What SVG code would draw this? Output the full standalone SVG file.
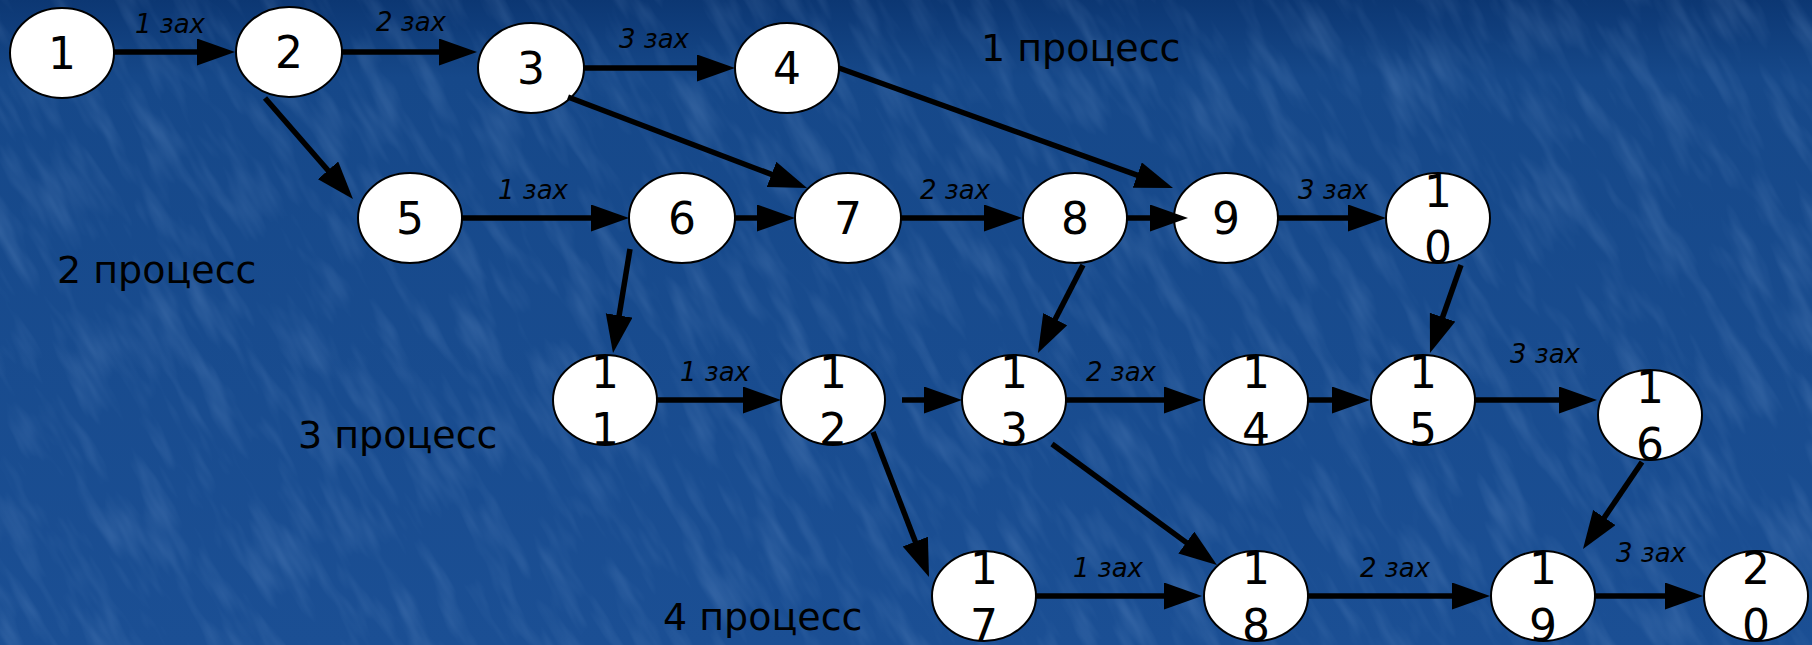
<svg xmlns="http://www.w3.org/2000/svg" width="1812" height="645" viewBox="0 0 1812 645">
<defs>
<linearGradient id="bg" x1="0" y1="0" x2="0" y2="1">
<stop offset="0" stop-color="#0c3773"/>
<stop offset="0.12" stop-color="#164889"/>
<stop offset="1" stop-color="#1b4f94"/>
</linearGradient>
<filter id="tex" x="0" y="0" width="100%" height="100%">
<feTurbulence type="fractalNoise" baseFrequency="0.05 0.012" numOctaves="3" seed="7"/>
<feColorMatrix type="matrix" values="0 0 0 0 0.40  0 0 0 0 0.60  0 0 0 0 0.92  0 0 0 1.1 -0.5"/>
</filter>
<marker id="ah" markerUnits="userSpaceOnUse" markerWidth="40" markerHeight="28" refX="28" refY="13.5" orient="auto">
<path d="M0,0 L38,13.5 L0,27 z" fill="#000"/>
</marker>
<style>
.node ellipse{fill:#fff;stroke:#000;stroke-width:2}
.node text{font-family:"DejaVu Sans","Liberation Sans",sans-serif;font-size:44px;fill:#000;text-anchor:middle}
.edges line{stroke:#000;stroke-width:5.5;marker-end:url(#ah)}
.el{font-family:"DejaVu Sans","Liberation Sans",sans-serif;font-style:italic;font-size:26px;fill:#000}
.proc{font-family:"DejaVu Sans","Liberation Sans",sans-serif;font-size:38px;fill:#000}
</style>
</defs>
<rect width="1812" height="645" fill="url(#bg)"/>
<g transform="rotate(-30 906 322)" opacity="0.32">
<rect x="-400" y="-600" width="2600" height="1850" filter="url(#tex)"/>
</g>

<g id="n1" class="node"><ellipse cx="62" cy="53" rx="52" ry="45"/><text x="62" y="69">1</text></g>
<g id="n2" class="node"><ellipse cx="289" cy="52" rx="53" ry="45"/><text x="289" y="68">2</text></g>
<g id="n3" class="node"><ellipse cx="531" cy="68" rx="53" ry="45"/><text x="531" y="84">3</text></g>
<g id="n4" class="node"><ellipse cx="787" cy="68" rx="52" ry="45"/><text x="787" y="84">4</text></g>
<g id="n5" class="node"><ellipse cx="410" cy="218" rx="52" ry="45"/><text x="410" y="234">5</text></g>
<g id="n6" class="node"><ellipse cx="682" cy="218" rx="53" ry="45"/><text x="682" y="234">6</text></g>
<g id="n7" class="node"><ellipse cx="848" cy="218" rx="53" ry="45"/><text x="848" y="234">7</text></g>
<g id="n8" class="node"><ellipse cx="1075" cy="218" rx="52" ry="45"/><text x="1075" y="234">8</text></g>
<g id="n9" class="node"><ellipse cx="1226" cy="218" rx="52" ry="45"/><text x="1226" y="234">9</text></g>
<g id="n10" class="node"><ellipse cx="1438" cy="218" rx="52" ry="45"/><text x="1438" y="207">1</text><text x="1438" y="263">0</text></g>
<g id="n11" class="node"><ellipse cx="605" cy="400" rx="52" ry="45"/><text x="605" y="388">1</text><text x="605" y="445">1</text></g>
<g id="n12" class="node"><ellipse cx="833" cy="400" rx="52" ry="45"/><text x="833" y="388">1</text><text x="833" y="445">2</text></g>
<g id="n13" class="node"><ellipse cx="1014" cy="400" rx="52" ry="45"/><text x="1014" y="388">1</text><text x="1014" y="445">3</text></g>
<g id="n14" class="node"><ellipse cx="1256" cy="400" rx="52" ry="45"/><text x="1256" y="388">1</text><text x="1256" y="445">4</text></g>
<g id="n15" class="node"><ellipse cx="1423" cy="400" rx="52" ry="45"/><text x="1423" y="388">1</text><text x="1423" y="445">5</text></g>
<g id="n16" class="node"><ellipse cx="1650" cy="415" rx="52" ry="45"/><text x="1650" y="403">1</text><text x="1650" y="460">6</text></g>
<g id="n17" class="node"><ellipse cx="984" cy="596" rx="52" ry="45"/><text x="984" y="584">1</text><text x="984" y="641">7</text></g>
<g id="n18" class="node"><ellipse cx="1256" cy="596" rx="52" ry="45"/><text x="1256" y="584">1</text><text x="1256" y="641">8</text></g>
<g id="n19" class="node"><ellipse cx="1543" cy="596" rx="52" ry="45"/><text x="1543" y="584">1</text><text x="1543" y="641">9</text></g>
<g id="n20" class="node"><ellipse cx="1756" cy="596" rx="52" ry="45"/><text x="1756" y="584">2</text><text x="1756" y="641">0</text></g>

<g id="edges" class="edges">
<line x1="114" y1="52" x2="225" y2="52"/>
<line x1="342" y1="52" x2="467" y2="52"/>
<line x1="584" y1="68" x2="725" y2="68"/>
<line x1="839" y1="68" x2="1163.6" y2="184.6"/>
<line x1="568" y1="97" x2="797.7" y2="184.4"/>
<line x1="265" y1="98" x2="346.4" y2="191.5"/>
<line x1="462" y1="218" x2="619" y2="218"/>
<line x1="735" y1="218" x2="785" y2="218"/>
<line x1="901" y1="218" x2="1012" y2="218"/>
<line x1="1127" y1="218" x2="1178" y2="218"/>
<line x1="1278" y1="218" x2="1376" y2="218"/>
<line x1="630" y1="249" x2="614.6" y2="343.1"/>
<line x1="1083" y1="265" x2="1042.5" y2="344.1"/>
<line x1="1461" y1="265" x2="1433.3" y2="343.6"/>
<line x1="657" y1="400" x2="771" y2="400"/>
<line x1="902" y1="400" x2="952" y2="400"/>
<line x1="1066" y1="400" x2="1192" y2="400"/>
<line x1="1308" y1="400" x2="1360" y2="400"/>
<line x1="1475" y1="400" x2="1587" y2="400"/>
<line x1="873" y1="432" x2="925.4" y2="567.7"/>
<line x1="1052" y1="444" x2="1208.9" y2="559.1"/>
<line x1="1642" y1="462" x2="1588.6" y2="540.7"/>
<line x1="1036" y1="596" x2="1192" y2="596"/>
<line x1="1308" y1="596" x2="1480" y2="596"/>
<line x1="1595" y1="596" x2="1693" y2="596"/>
</g>

<g id="labels">
<text class="el" x="135" y="33">1 зах</text>
<text class="el" x="376" y="31">2 зах</text>
<text class="el" x="619" y="48">3 зах</text>
<text class="el" x="498" y="199">1 зах</text>
<text class="el" x="920" y="199">2 зах</text>
<text class="el" x="1298" y="199">3 зах</text>
<text class="el" x="680" y="381">1 зах</text>
<text class="el" x="1086" y="381">2 зах</text>
<text class="el" x="1510" y="363">3 зах</text>
<text class="el" x="1073" y="577">1 зах</text>
<text class="el" x="1360" y="577">2 зах</text>
<text class="el" x="1616" y="562">3 зах</text>
<text class="proc" x="981" y="61">1 процесс</text>
<text class="proc" x="57" y="283">2 процесс</text>
<text class="proc" x="298" y="448">3 процесс</text>
<text class="proc" x="663" y="630">4 процесс</text>
</g>
</svg>
